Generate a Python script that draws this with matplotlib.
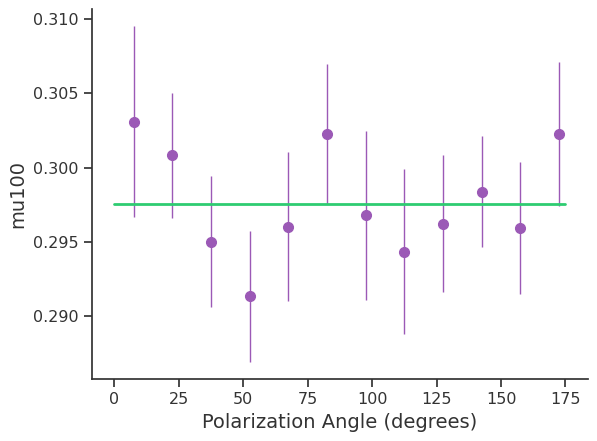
import matplotlib
matplotlib.use("Agg")
import matplotlib.pyplot as plt
import seaborn as sns
import numpy as np

angles = [7.5, 22.5, 37.5, 52.5, 67.5, 82.5, 97.5, 112.5, 127.5, 142.5, 157.5, 172.5]
mu100 = [0.30309, 0.30081, 0.29503, 0.29134, 0.29604, 0.30228, 0.29678, 0.29436, 0.29624, 0.29839, 0.29597, 0.30228]
mu_err = [0.00644, 0.00421, 0.00437, 0.00440, 0.00500, 0.00470, 0.00570, 0.00551, 0.00457, 0.00376, 0.00443, 0.00483]
fit_x = [0, 175]
fit_y = [0.29758, 0.29758]

sns.set_theme(style="ticks")
txt = "#333333"
plt.rcParams.update({"text.color": txt, "axes.labelcolor": txt, "xtick.color": txt,
                     "ytick.color": txt, "axes.edgecolor": txt})
fig = plt.figure(figsize=(5.97, 4.41), dpi=100)
ax = fig.add_axes([0.154, 0.141, 0.831, 0.839])
ax.errorbar(angles, mu100, yerr=mu_err, fmt="o", color="#9b59b6", ecolor="#9b59b6",
            elinewidth=1, markersize=7, capsize=0)
ax.plot(fit_x, fit_y, color="#2ecc71", linewidth=2)
ax.set_xlabel("Polarization Angle (degrees)", fontsize=14)
ax.set_ylabel("mu100", fontsize=14)
ax.tick_params(labelsize=11.5)
sns.despine(ax=ax)
fig.savefig("out.png", dpi=100)
